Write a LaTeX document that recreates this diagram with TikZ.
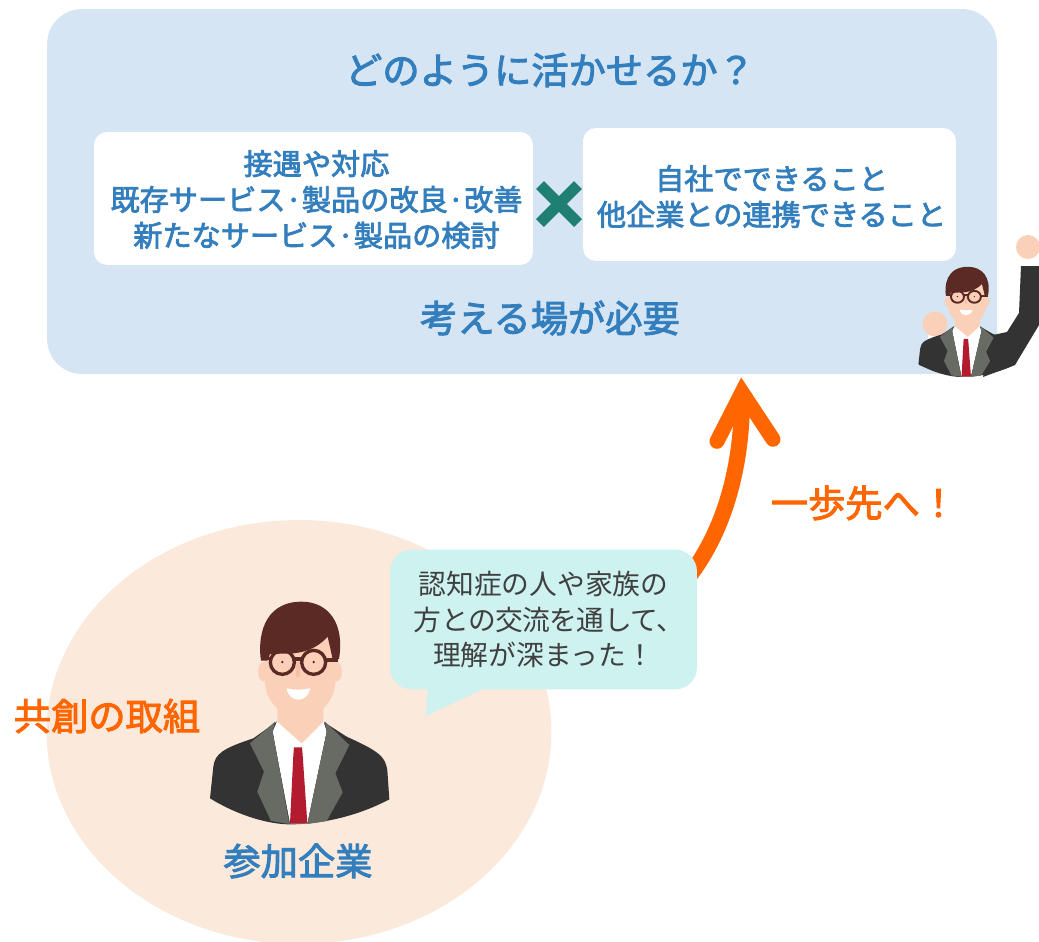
\documentclass[tikz,border=0pt]{standalone}
\usepackage{fontspec}
\usepackage{xcolor}
\setmainfont{Noto Sans CJK JP}
\newfontfamily\headfont{Noto Sans CJK JP}[FakeBold=2.6]
\usetikzlibrary{shapes.geometric,backgrounds}

\definecolor{panelblue}{HTML}{D5E5F4}
\definecolor{textblue}{HTML}{337EBD}
\definecolor{crossgreen}{HTML}{1F7F72}
\definecolor{peach}{HTML}{FBE9DC}
\definecolor{bubblecyan}{HTML}{CEF2F0}
\definecolor{arroworange}{HTML}{FF6600}
\definecolor{skin}{HTML}{FBD0B9}
\definecolor{nose}{HTML}{F6BFA6}
\definecolor{hair}{HTML}{5B2A24}
\definecolor{jacket}{HTML}{333333}
\definecolor{lapel}{HTML}{686A64}
\definecolor{tie}{HTML}{B31B2E}

\tikzset{
	whitebox/.style={fill=white, rounded corners=0.26cm, inner sep=0pt, minimum height=2.66cm},
	boxtext/.style={align=center, inner sep=0pt, text=textblue, font=\fontsize{16.6}{20.4}\selectfont\headfont},
	headline/.style={text=textblue, inner sep=0pt, font=\fontsize{21.2}{24}\selectfont\headfont},
	orangetext/.style={text=arroworange, inner sep=0pt, font=\fontsize{21.2}{24}\selectfont\headfont},
	% one person from the chest up, y runs downwards
	pics/staff/.style={code={
		\fill[jacket] (-270,625) .. controls (-180,680) and (-90,703) .. (-30,703) .. controls (60,703) and (170,680) .. (268,628) -- (262,540) .. controls (255,500) and (240,485) .. (140,440) -- (70,395) -- (-70,395) -- (-140,445) .. controls (-230,475) and (-255,490) .. (-260,530) -- cycle;
		\fill[white] (-68,392) -- (-82,425) -- (-30,700) -- (22,700) -- (80,425) -- (70,392) -- cycle;
		\fill[lapel] (-75,395) -- (-150,460) -- (-108,545) -- (-128,605) -- (-87,693) -- (-32,702) -- (-82,425) -- cycle;
		\fill[lapel] (75,395) -- (148,465) -- (106,550) -- (128,607) -- (80,693) -- (22,702) -- (80,425) -- cycle;
		\fill[tie] (-18,472) -- (6,472) -- (8,495) -- (22,700) -- (-30,700) -- (-20,495) -- cycle;
		\fill[skin] (-108,245) ellipse [x radius=18, y radius=30];
		\fill[skin] (108,245) ellipse [x radius=18, y radius=30];
		\fill[skin] (-68,340) -- (-68,395) -- (5,460) -- (70,395) -- (70,340) -- cycle;
		\fill[skin] (-105,140) -- (107,140) -- (107,270) .. controls (105,310) and (90,335) .. (70,355) -- (-68,355) .. controls (-90,335) and (-105,310) .. (-105,270) -- cycle;
		\fill[nose] (-12,215) rectangle (0,262);
		\fill[white] (-40,295) .. controls (-15,300) and (10,300) .. (30,295) .. controls (25,340) and (-35,340) .. (-40,295) -- cycle;
		\fill[hair] (-117,212) .. controls (-127,150) and (-115,35) .. (5,35) .. controls (85,35) and (135,100) .. (117,207) -- (98,207) -- (83,140) .. controls (60,165) and (30,185) .. (-20,190) -- (-90,192) -- (-98,212) -- cycle;
		\draw[hair, line width=#1] (-53,217) circle (36) (41,217) circle (36);
		\draw[hair, line width=#1] (-115,205) -- (-88,205) (-18,207) -- (6,207) (76,210) -- (115,210);
		\fill[hair] (-53,216) circle (4) (41,216) circle (4);
	}}
}

\begin{document}
\begin{tikzpicture}[x=0.02cm, y=-0.02cm]
	\useasboundingbox (0,0) rectangle (1039,941);

	% upper panel
	\node[fill=panelblue, rounded corners=0.7cm, minimum width=19cm, minimum height=7.3cm, inner sep=0pt] (panel) at (522,191.5) {};
	\node[headline] (question) at (550,70) {どのように活かせるか？};
	\node[whitebox, minimum width=8.78cm] (leftbox) at (313.5,198.5) {};
	\node[boxtext] (lefttext) at (316.5,199.5) {接遇や対応\\既存サービス·製品の改良·改善\\新たなサービス·製品の検討};
	\node[whitebox, minimum width=7.46cm] (rightbox) at (769.5,194.5) {};
	\node[boxtext] (righttext) at (771.5,196.5) {自社でできること\\他企業との連携できること};
	\node[headline] (place) at (550,318) {考える場が必要};
	\draw[crossgreen, line width=0.22cm] (540,185) -- (578,223);
	\draw[crossgreen, line width=0.22cm] (578,185) -- (540,223);

	% small person with a raised arm
	\fill[jacket] (993,335) -- (1007,332) -- (1019,313) -- (1021,266) -- (1039,266) -- (1039,325) -- (1015,365) -- (983,377) -- cycle;
	\fill[jacket] (919,365) -- (924,345) -- (928,341) -- (947,341) -- (960,370) -- (940,372) -- cycle;
	\fill[white] (1021,258) rectangle (1039,266);
	\fill[white] (928,335) rectangle (947,342);
	\fill[skin] (1028,247) circle (12);
	\fill[skin] (935,324) circle (12.5);
	\pic[xscale=0.18, yscale=0.165] at (967,261) {staff=1.1pt};

	% lower circle and speech bubble
	\node[ellipse, fill=peach, minimum width=10.1cm, minimum height=8.48cm, inner sep=0pt] (joint) at (299,732) {};
	\node[orangetext] (kyoso) at (107,716) {共創の取組};
	\pic[scale=1/3] at (300,590) {staff=1.9pt};
	\node[headline] (company) at (298,861) {参加企業};
	\fill[bubblecyan] (428,685) -- (426,716) -- (492,685) -- cycle;
	\node[fill=bubblecyan, rounded corners=0.44cm, minimum width=6.14cm, minimum height=2.8cm, inner sep=0pt, align=center, text=black!75, font=\fontsize{15.8}{20.3}\selectfont] (bubble) at (543.5,619.5) {認知症の人や家族の\\\hspace*{0.22cm}{\addfontfeature{LetterSpace=-2}方との交流を通して、}\\理解が深まった！};

	% arrow up to the panel
	\coordinate (tip) at ([shift={(220,18)}]panel.south);
	\begin{scope}[on background layer]
		\draw[arroworange, line width=0.32cm] ([shift={(-10,12)}]bubble.19) .. controls (722,535) and (743,470) .. (tip);
	\end{scope}
	\draw[arroworange, line width=0.3cm, line cap=round, line join=miter] ([shift={(-25,49)}]tip) -- (tip) -- ([shift={(31,47)}]tip);
	\node[orangetext] (further) at (864,503) {一歩先へ！};
\end{tikzpicture}
\end{document}
